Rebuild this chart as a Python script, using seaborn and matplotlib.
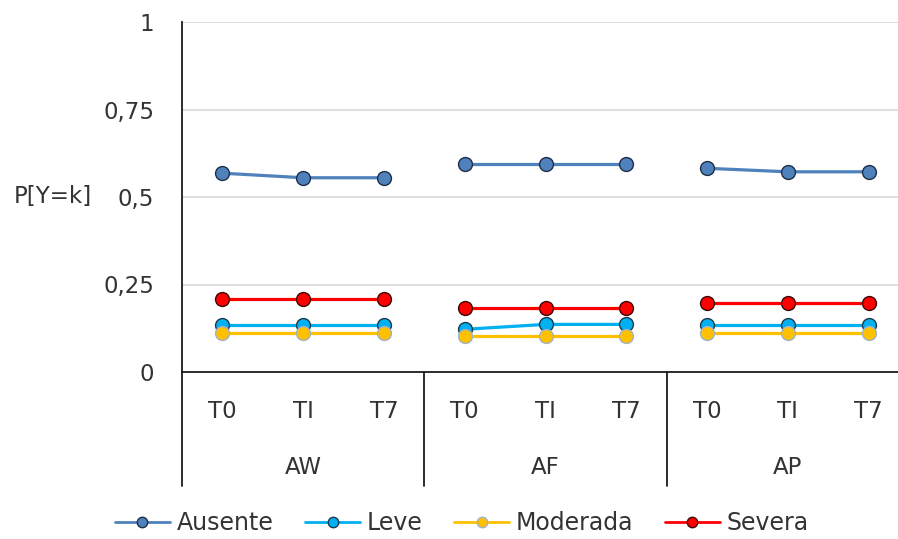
import matplotlib
matplotlib.use("Agg")
import matplotlib.pyplot as plt
from matplotlib.lines import Line2D
import matplotlib.transforms as mtransforms
import numpy as np
import pandas as pd
import seaborn as sns

# Groups, time points and series
grupos = ["AW", "AF", "AP"]
tiempos = ["T0", "TI", "T7"]
series = ["Ausente", "Leve", "Moderada", "Severa"]

# Probabilities per series, ordered AW(T0,TI,T7), AF(T0,TI,T7), AP(T0,TI,T7)
ausente = [0.568, 0.555, 0.555, 0.594, 0.594, 0.594, 0.582, 0.572, 0.572]
leve = [0.134, 0.134, 0.134, 0.122, 0.136, 0.136, 0.134, 0.134, 0.134]
moderada = [0.112, 0.112, 0.112, 0.103, 0.103, 0.103, 0.112, 0.112, 0.112]
severa = [0.209, 0.209, 0.209, 0.184, 0.184, 0.184, 0.196, 0.196, 0.196]

y_ticks = [0, 0.25, 0.5, 0.75, 1]
y_tick_labels = ["0", "0,25", "0,5", "0,75", "1"]

valores = {"Ausente": ausente, "Leve": leve, "Moderada": moderada, "Severa": severa}
colores = {"Ausente": "#4F81BD", "Leve": "#00B0F0", "Moderada": "#FFC000", "Severa": "#FF0000"}
bordes = {"Ausente": "#1F2F45", "Leve": "#1F3A4A", "Moderada": "#9DB3C8", "Severa": "#3A0A0A"}

filas = []
for s in series:
    for gi, g in enumerate(grupos):
        for ti, t in enumerate(tiempos):
            k = gi * len(tiempos) + ti
            filas.append({"serie": s, "grupo": g, "tiempo": t, "pos": k, "valor": valores[s][k]})
df = pd.DataFrame(filas)

sns.set_theme(style="white")
plt.rcParams["font.family"] = ["DejaVu Sans"]
texto = "#333333"
fs = 16.5

fig = plt.figure(figsize=(8.98, 5.39), dpi=100)
ax = fig.add_axes([182 / 898, 1 - 372 / 539, 727 / 898, 350 / 539])

for s in series:
    sub = df[df["serie"] == s]
    sns.lineplot(data=sub, x="pos", y="valor", units="grupo", estimator=None,
                 color=colores[s], linewidth=2.3, marker="o", markersize=10,
                 markeredgecolor=bordes[s], markeredgewidth=1.0, ax=ax, legend=False)

ax.set_xlim(-0.5, len(grupos) * len(tiempos) - 0.5)
ax.set_ylim(0, 1)
ax.set_yticks(y_ticks)
ax.set_yticklabels(y_tick_labels, fontsize=fs, color=texto)
ax.tick_params(axis="y", length=0, pad=20)
ax.set_xticks(range(len(grupos) * len(tiempos)))
ax.set_xticklabels(tiempos * len(grupos), fontsize=fs, color=texto)
ax.tick_params(axis="x", length=0, pad=20)
ax.set_xlabel("")
ax.set_ylabel("")

for y in y_ticks[1:]:
    ax.axhline(y, color="#D9D9D9", linewidth=1.2, zorder=0)

for side in ["top", "right"]:
    ax.spines[side].set_visible(False)
ax.spines["bottom"].set_color("#1A1A1A")
ax.spines["bottom"].set_linewidth(1.3)
ax.spines["left"].set_color("#1A1A1A")
ax.spines["left"].set_linewidth(1.3)

# Multi-level category axis: group separators and group names
trans = mtransforms.blended_transform_factory(ax.transData, ax.transAxes)
fondo = -114 / 350
for gi in range(len(grupos) + 1):
    xs = gi * len(tiempos) - 0.5
    ax.add_line(Line2D([xs, xs], [0, fondo], transform=trans, color="#1A1A1A",
                       linewidth=1.3, clip_on=False))
for gi, g in enumerate(grupos):
    ax.text(gi * len(tiempos) + 1, -96 / 350, g, transform=trans, ha="center",
            va="center", fontsize=fs, color=texto)

fig.text(14 / 898, 1 - 197 / 539, "P[Y=k]", ha="left", va="center", fontsize=fs, color=texto)

handles = [Line2D([], [], color=colores[s], linewidth=2.0, marker="o", markersize=7.5,
                  markeredgecolor=bordes[s], markeredgewidth=1.0) for s in series]
fig.legend(handles, series, loc="center", bbox_to_anchor=(462 / 898, 1 - 523 / 539),
           ncol=4, frameon=False, fontsize=17, handlelength=2.3, handletextpad=0.3,
           columnspacing=1.35, labelcolor=texto, borderpad=0, borderaxespad=0)

fig.savefig("out.png", dpi=100, facecolor="white")
